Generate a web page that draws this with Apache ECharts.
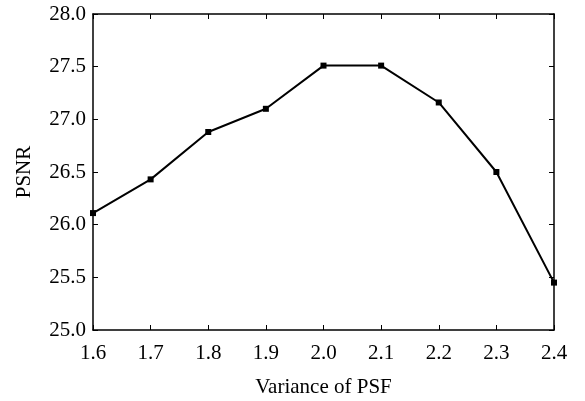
<!DOCTYPE html>
<html>
<head>
<meta charset="utf-8">
<script src="https://cdn.jsdelivr.net/npm/echarts@6/dist/echarts.min.js"></script>
<style>
  html, body { margin: 0; padding: 0; background: #fff; }
  #chart { width: 585px; height: 401px; }
</style>
</head>
<body>
<div id="chart"></div>
<script>
// values
const variances = ['1.6', '1.7', '1.8', '1.9', '2.0', '2.1', '2.2', '2.3', '2.4'];
const psnr = [26.11, 26.43, 26.88, 27.10, 27.51, 27.51, 27.16, 26.50, 25.45];

const chart = echarts.init(document.getElementById('chart'));

const font = 'Liberation Serif';
const axisLine = { show: true, lineStyle: { color: '#000', width: 1.5 } };
const axisTick = { show: true, inside: true, length: 5, lineStyle: { color: '#000', width: 1 } };

chart.setOption({
  backgroundColor: '#fff',
  animation: false,
  grid: { left: 93, right: 31, top: 14, bottom: 71, containLabel: false, outerBoundsMode: 'none' },
  xAxis: [
    {
      type: 'category',
      data: variances,
      boundaryGap: false,
      name: 'Variance of PSF',
      nameLocation: 'middle',
      nameGap: 47,
      nameTextStyle: { fontFamily: font, fontSize: 21, color: '#000' },
      axisLine: axisLine,
      axisTick: axisTick,
      axisLabel: { fontFamily: font, fontSize: 21, color: '#000', margin: 13 },
      splitLine: { show: false }
    },
    {
      type: 'category',
      data: variances,
      boundaryGap: false,
      position: 'top',
      axisLine: axisLine,
      axisTick: axisTick,
      axisLabel: { show: false },
      splitLine: { show: false }
    }
  ],
  yAxis: [
    {
      type: 'value',
      min: 25,
      max: 28,
      interval: 0.5,
      name: 'PSNR',
      nameLocation: 'middle',
      nameGap: 58,
      nameTextStyle: { fontFamily: font, fontSize: 21, color: '#000' },
      axisLine: axisLine,
      axisTick: axisTick,
      axisLabel: {
        fontFamily: font, fontSize: 21, color: '#000', margin: 7,
        formatter: v => v.toFixed(1)
      },
      splitLine: { show: false }
    },
    {
      type: 'value',
      min: 25,
      max: 28,
      interval: 0.5,
      position: 'right',
      axisLine: axisLine,
      axisTick: axisTick,
      axisLabel: { show: false },
      splitLine: { show: false }
    }
  ],
  series: [
    {
      type: 'line',
      data: psnr,
      symbol: 'rect',
      symbolSize: 6,
      itemStyle: { color: '#000' },
      lineStyle: { color: '#000', width: 2 }
    }
  ]
});

window.addEventListener('resize', () => chart.resize());
</script>
</body>
</html>
